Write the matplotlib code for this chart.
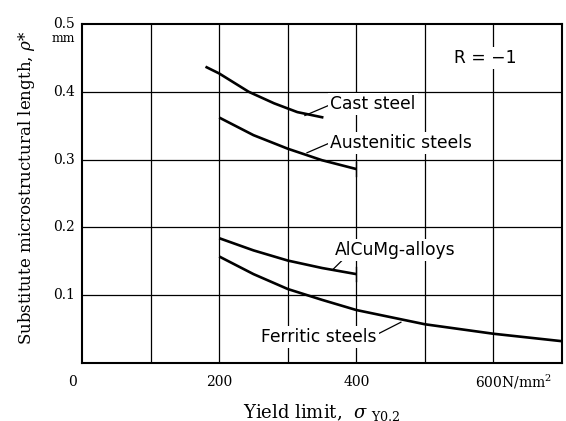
import matplotlib
matplotlib.use("Agg")
import matplotlib.pyplot as plt
import numpy as np

# yield limit (N/mm^2) and substitute microstructural length (mm)
cast_x = [180, 200, 243, 280, 314, 352]
cast_y = [0.437, 0.427, 0.400, 0.383, 0.370, 0.362]

aust_x = [200, 250, 300, 350, 400]
aust_y = [0.362, 0.336, 0.316, 0.299, 0.286]

alcu_x = [200, 250, 300, 350, 400]
alcu_y = [0.184, 0.166, 0.151, 0.140, 0.131]

ferr_x = [200, 250, 300, 350, 400, 500, 600, 700]
ferr_y = [0.157, 0.131, 0.109, 0.093, 0.078, 0.057, 0.043, 0.032]

serif = "DejaVu Serif"
sans = "DejaVu Sans"
plt.rcParams["mathtext.fontset"] = "dejavuserif"

fig = plt.figure(figsize=(5.66, 4.21), dpi=100)
ax = fig.add_axes([0.145, 0.138, 0.848, 0.805])

ax.set_xlim(0, 700)
ax.set_ylim(0, 0.5)
ax.set_xticks(np.arange(100, 700, 100))
ax.set_yticks([0.1, 0.2, 0.3, 0.4])
ax.grid(True, color="black", linewidth=0.9)
ax.tick_params(length=0, labelbottom=False, labelleft=False)
for s in ax.spines.values():
    s.set_linewidth(1.5)

for xs, ys in [(cast_x, cast_y), (aust_x, aust_y), (alcu_x, alcu_y), (ferr_x, ferr_y)]:
    ax.plot(xs, ys, color="black", linewidth=1.9, solid_capstyle="butt", zorder=4)

# small end ticks at 400 for the shorter curves
ax.plot([400, 400], [0.276, 0.296], color="black", linewidth=1.0, zorder=4)
ax.plot([400, 400], [0.121, 0.141], color="black", linewidth=1.0, zorder=4)

# y tick labels
for v in [0.1, 0.2, 0.3, 0.4, 0.5]:
    ax.text(-10, v, f"{v:.1f}", ha="right", va="center", fontsize=10, family=serif)
ax.text(-10, 0.478, "mm", ha="right", va="center", fontsize=9, family=serif)

# x tick labels
ax.text(-14, -0.028, "0", ha="center", va="center", fontsize=10, family=serif)
ax.text(200, -0.028, "200", ha="center", va="center", fontsize=10, family=serif)
ax.text(400, -0.028, "400", ha="center", va="center", fontsize=10, family=serif)
ax.text(573, -0.028, "600N/mm$^2$", ha="left", va="center", fontsize=10, family=serif)

ax.text(0.5, -0.145, r"Yield limit,  $\sigma$ $_{\mathrm{Y0.2}}$", transform=ax.transAxes,
        ha="center", va="center", fontsize=13, family=serif)
ax.text(-0.115, 0.515, r"Substitute microstructural length, $\rho$*", transform=ax.transAxes,
        ha="center", va="center", rotation=90, fontsize=12, family=serif)

# curve labels with leader lines
box = dict(facecolor="white", edgecolor="none", pad=1.5)
kw = dict(fontsize=12.3, family=sans, va="center", bbox=box, zorder=5)
ax.text(362, 0.382, "Cast steel", ha="left", **kw)
ax.plot([325, 360], [0.365, 0.380], color="black", linewidth=0.9, zorder=4)
ax.text(362, 0.325, "Austenitic steels", ha="left", **kw)
ax.plot([328, 360], [0.310, 0.324], color="black", linewidth=0.9, zorder=4)
ax.text(368, 0.166, "AlCuMg-alloys", ha="left", **kw)
ax.plot([365, 380], [0.137, 0.152], color="black", linewidth=0.9, zorder=4)
ax.text(430, 0.038, "Ferritic steels", ha="right", **kw)
ax.plot([432, 465], [0.043, 0.060], color="black", linewidth=0.9, zorder=4)
ax.text(588, 0.450, "R = \u22121", ha="center", **kw)

fig.savefig("out.png", dpi=100)
